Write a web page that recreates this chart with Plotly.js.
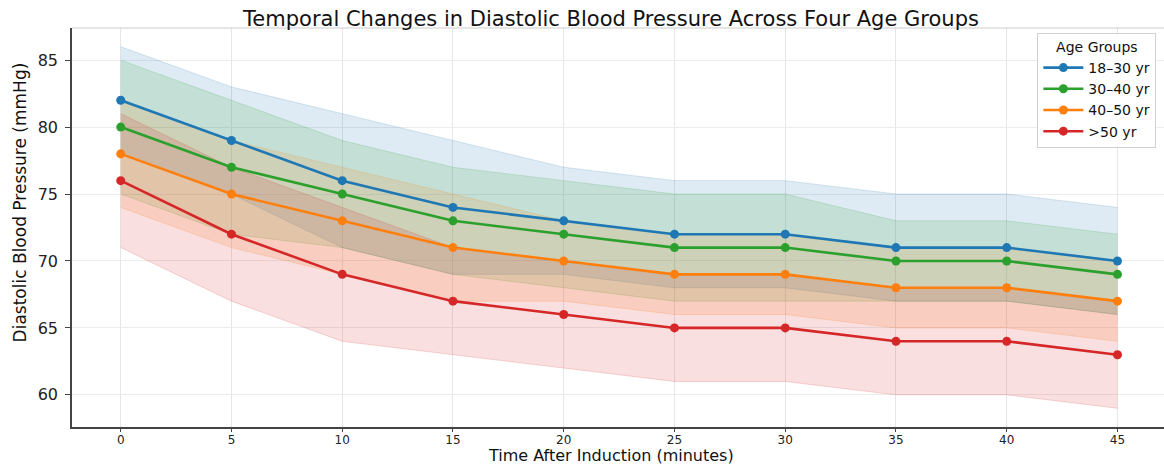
<!DOCTYPE html>
<html>
<head>
<meta charset="utf-8">
<script src="https://cdn.plot.ly/plotly-3.0.1.min.js"></script>
<style>html,body{margin:0;padding:0;background:#fff;}#chart{width:1164px;height:466px;}</style>
</head>
<body>
<div id="chart"></div>
<script>
const time = [0, 5, 10, 15, 20, 25, 30, 35, 40, 45];
const groupNames = ["18–30 yr", "30–40 yr", "40–50 yr", ">50 yr"];

const mean18_30  = [82, 79, 76, 74, 73, 72, 72, 71, 71, 70];
const upper18_30 = [86, 83, 81, 79, 77, 76, 76, 75, 75, 74];
const lower18_30 = [78, 75, 71, 69, 69, 68, 68, 67, 67, 66];

const mean30_40  = [80, 77, 75, 73, 72, 71, 71, 70, 70, 69];
const upper30_40 = [85, 82, 79, 77, 76, 75, 75, 73, 73, 72];
const lower30_40 = [75, 72, 71, 69, 68, 67, 67, 67, 67, 66];

const mean40_50  = [78, 75, 73, 71, 70, 69, 69, 68, 68, 67];
const upper40_50 = [82, 79, 77, 75, 73, 72, 72, 71, 71, 70];
const lower40_50 = [74, 71, 69, 67, 67, 66, 66, 65, 65, 64];

const mean50p  = [76, 72, 69, 67, 66, 65, 65, 64, 64, 63];
const upper50p = [81, 77, 74, 71, 70, 69, 69, 68, 68, 67];
const lower50p = [71, 67, 64, 63, 62, 61, 61, 60, 60, 59];

const xTicks = [0, 5, 10, 15, 20, 25, 30, 35, 40, 45];
const yTicks = [60, 65, 70, 75, 80, 85];

const titleText = "Temporal Changes in Diastolic Blood Pressure Across Four Age Groups";
const xTitleText = "Time After Induction (minutes)";
const yTitleText = "Diastolic Blood Pressure (mmHg)";
const legendTitleText = "Age Groups";

const colors = ["#1f77b4", "#2ca02c", "#ff7f0e", "#d62728"];
const fills = ["rgba(31,119,180,0.15)", "rgba(44,160,44,0.15)", "rgba(255,127,14,0.15)", "rgba(214,39,40,0.15)"];
const edges = ["rgba(31,119,180,0.18)", "rgba(44,160,44,0.18)", "rgba(255,127,14,0.18)", "rgba(214,39,40,0.18)"];

const means = [mean18_30, mean30_40, mean40_50, mean50p];
const uppers = [upper18_30, upper30_40, upper40_50, upper50p];
const lowers = [lower18_30, lower30_40, lower40_50, lower50p];

const traces = [];
for (let i = 0; i < 4; i++) {
  traces.push({x: time, y: lowers[i], mode: "lines", line: {color: edges[i], width: 1}, showlegend: false, hoverinfo: "skip"});
  traces.push({x: time, y: uppers[i], mode: "lines", fill: "tonexty", fillcolor: fills[i], line: {color: edges[i], width: 1}, showlegend: false, hoverinfo: "skip"});
}
for (let i = 0; i < 4; i++) {
  traces.push({x: time, y: means[i], name: groupNames[i], mode: "lines+markers",
    line: {color: colors[i], width: 2.6}, marker: {color: colors[i], size: 9}});
}

const layout = {
  width: 1164, height: 466,
  margin: {l: 72, r: 0, t: 28, b: 39},
  paper_bgcolor: "#fff", plot_bgcolor: "#fff",
  title: {text: titleText, font: {family: "DejaVu Sans", size: 21, color: "#111"},
    xref: "paper", x: 0.4936, xanchor: "center", yref: "container", y: 0.961, yanchor: "middle"},
  xaxis: {
    range: [-2.2, 47.1], tickvals: xTicks, ticktext: xTicks.map(String),
    showgrid: true, gridcolor: "#e6e6e6", gridwidth: 1, zeroline: false,
    showline: true, linecolor: "#444", linewidth: 1.5,
    ticks: "outside", ticklen: 3, tickcolor: "#444", tickwidth: 1.2,
    ticklabelstandoff: -2,
    tickfont: {family: "DejaVu Sans", size: 12, color: "#222"}
  },
  yaxis: {
    range: [57.6, 87.4], tickvals: yTicks, ticktext: yTicks.map(String),
    showgrid: true, gridcolor: "#ececec", gridwidth: 1, zeroline: false,
    showline: true, linecolor: "#444", linewidth: 1.5,
    ticks: "outside", ticklen: 5, tickcolor: "#444", tickwidth: 1.2,
    ticklabelstandoff: 4,
    tickfont: {family: "DejaVu Sans", size: 16, color: "#222"}
  },
  annotations: [
    {text: xTitleText, xref: "paper", yref: "paper", x: 0.4936, y: -0.0702, xanchor: "center", yanchor: "middle",
      showarrow: false, font: {family: "DejaVu Sans", size: 16, color: "#111"}},
    {text: yTitleText, xref: "paper", yref: "paper", x: -0.0476, y: 0.563, xanchor: "center", yanchor: "middle",
      textangle: -90, showarrow: false, font: {family: "DejaVu Sans", size: 17, color: "#111"}}
  ],
  shapes: [{type: "line", xref: "paper", yref: "paper", x0: 0, x1: 1, y0: 1, y1: 1, line: {color: "#cccccc", width: 1}}],
  legend: {
    title: {text: legendTitleText, side: "top center", font: {family: "DejaVu Sans", size: 14, color: "#111"}},
    traceorder: "normal",
    x: 0.993, xanchor: "right", y: 0.988, yanchor: "top",
    bgcolor: "rgba(255,255,255,0.9)", bordercolor: "#d0d0d0", borderwidth: 1,
    font: {family: "DejaVu Sans", size: 14, color: "#111"},
    itemwidth: 40, tracegroupgap: 0
  },
  showlegend: true
};

Plotly.newPlot("chart", traces, layout, {displayModeBar: false, responsive: false});
</script>
</body>
</html>
